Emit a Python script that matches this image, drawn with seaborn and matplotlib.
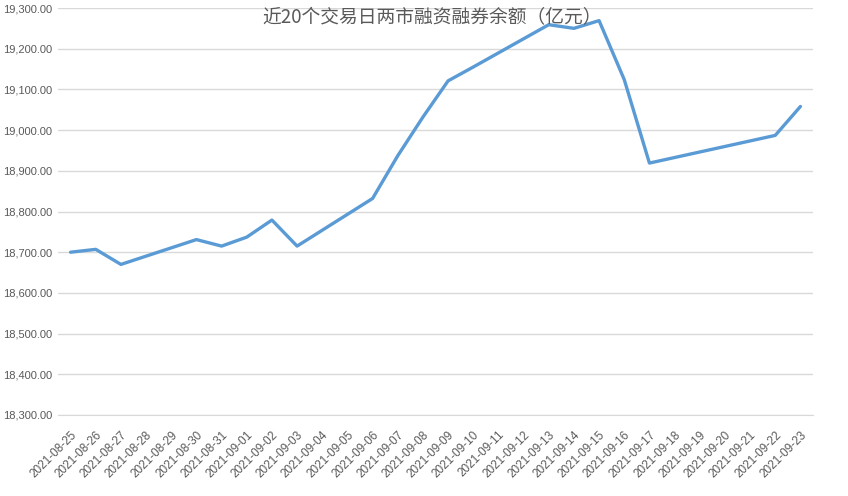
import numpy as np
import pandas as pd
import matplotlib
matplotlib.use('Agg')
import matplotlib.pyplot as plt
from matplotlib.ticker import FuncFormatter
import seaborn as sns

# Data
trade_dates = ['2021-08-25', '2021-08-26', '2021-08-27', '2021-08-30', '2021-08-31',
               '2021-09-01', '2021-09-02', '2021-09-03', '2021-09-06', '2021-09-07',
               '2021-09-08', '2021-09-09', '2021-09-10', '2021-09-13', '2021-09-14',
               '2021-09-15', '2021-09-16', '2021-09-17', '2021-09-22', '2021-09-23']
balance = [18700, 18707, 18670, 18731, 18715,
           18737, 18779, 18715, 18832, 18937,
           19032, 19121, 19155, 19259, 19250,
           19269, 19124, 18919, 18987, 19058]
axis_start = '2021-08-25'
axis_end = '2021-09-23'
title = '近20个交易日两市融资融券余额（亿元）'

df = pd.DataFrame({'date': pd.to_datetime(trade_dates), 'balance': balance})

sns.set_style('white')
plt.rcParams['font.family'] = ['Liberation Sans', 'DejaVu Sans']

fig = plt.figure(figsize=(8.48, 4.96), dpi=100)
ax = fig.add_axes([58/848, 1 - 415/496, (813-58)/848, (415-8)/496])

sns.lineplot(data=df, x='date', y='balance', ax=ax, color='#5b9bd5', linewidth=2.4)

# date axis: one slot per calendar day, ticks on slot boundaries
all_days = pd.date_range(axis_start, axis_end, freq='D')
half = pd.Timedelta(hours=12)
ax.set_xlim(all_days[0] - half, all_days[-1] + half)
ax.set_ylim(18300, 19300)
ax.set_yticks(np.arange(18300, 19301, 100))
ax.yaxis.set_major_formatter(FuncFormatter(lambda v, p: '{:,.2f}'.format(v)))
ax.grid(axis='y', color='#d9d9d9', linewidth=1)
ax.set_axisbelow(True)

ax.set_xticks(all_days)
ax.set_xticklabels([d.strftime('%Y-%m-%d') for d in all_days], rotation=45,
                   ha='right', rotation_mode='anchor', fontsize=8.5, color='#595959')
ax.set_xticks(list(pd.date_range(all_days[0] - half, all_days[-1] + half, freq='D')), minor=True)
ax.tick_params(axis='x', which='major', length=0, pad=10)
ax.tick_params(axis='x', which='minor', length=5, color='#d9d9d9', width=1)
ax.tick_params(axis='y', length=0, labelsize=8, labelcolor='#595959', pad=4)

for s in ['top', 'right', 'left']:
    ax.spines[s].set_visible(False)
ax.spines['bottom'].set_color('#d9d9d9')
ax.set_xlabel('')
ax.set_ylabel('')

fig.text(432/848, 1 - 18/496, title, ha='center', va='center', fontsize=13.5,
         color='#595959', family=['Noto Sans CJK SC', 'DejaVu Sans'])

fig.savefig('out.png', dpi=100)
